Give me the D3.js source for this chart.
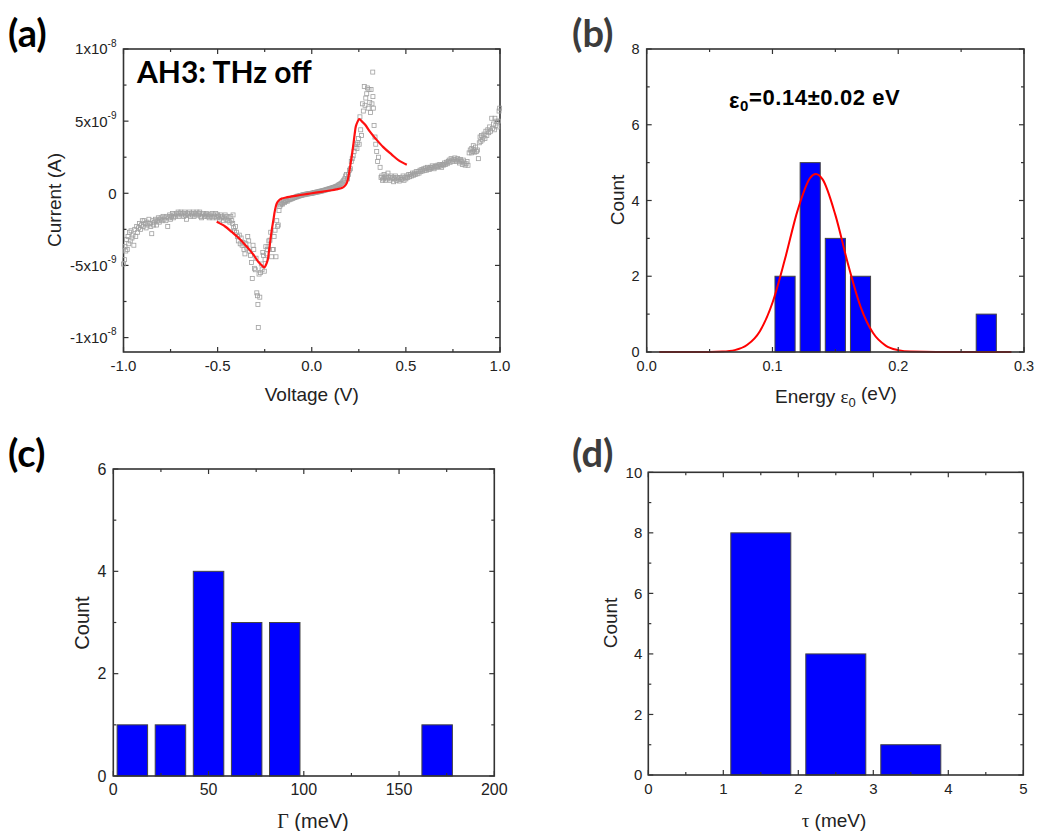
<!DOCTYPE html>
<html><head><meta charset="utf-8">
<script src="https://cdn.jsdelivr.net/npm/d3@7/dist/d3.min.js"></script>
<style>
html,body{margin:0;padding:0;background:#fff;}
svg{display:block;}
text{fill:#222;}
</style></head>
<body>
<svg id="fig" width="1038" height="831" font-family="Liberation Sans, Arial, sans-serif"></svg>
<script>
// ---------- DATA ----------
// Panel (a): I-V scatter (current in units of 1e-9 A)
const voltage = [
-1.000,-0.995,-0.992,-0.988,-0.984,-0.980,-0.976,-0.972,-0.968,-0.964,-0.960,-0.955,-0.950,-0.945,-0.940,-0.935,-0.930,-0.925,-0.920,-0.915,
-0.910,-0.905,-0.900,-0.895,-0.890,-0.885,-0.880,-0.875,-0.870,-0.865,-0.860,-0.855,-0.850,-0.845,-0.840,-0.835,-0.830,-0.825,-0.820,-0.815,
-0.810,-0.805,-0.800,-0.795,-0.790,-0.785,-0.780,-0.775,-0.770,-0.765,-0.760,-0.755,-0.750,-0.745,-0.740,-0.735,-0.730,-0.725,-0.720,-0.715,
-0.710,-0.705,-0.700,-0.695,-0.690,-0.685,-0.680,-0.675,-0.670,-0.665,-0.660,-0.655,-0.650,-0.645,-0.640,-0.635,-0.630,-0.625,-0.620,-0.615,
-0.610,-0.605,-0.600,-0.595,-0.590,-0.585,-0.580,-0.575,-0.570,-0.565,-0.560,-0.555,-0.550,-0.545,-0.540,-0.535,-0.530,-0.525,-0.520,-0.515,
-0.510,-0.505,-0.500,-0.495,-0.490,-0.485,-0.480,-0.475,-0.470,-0.465,-0.460,-0.455,-0.450,-0.445,-0.440,-0.435,-0.430,-0.425,-0.420,-0.418,
-0.415,-0.410,-0.405,-0.400,-0.395,-0.390,-0.385,-0.380,-0.375,-0.370,-0.365,-0.360,-0.355,-0.350,-0.345,-0.340,-0.335,-0.330,-0.325,-0.320,
-0.316,-0.312,-0.308,-0.304,-0.300,-0.296,-0.292,-0.288,-0.286,-0.284,-0.280,-0.276,-0.272,-0.268,-0.264,-0.260,-0.256,-0.252,-0.248,-0.244,
-0.240,-0.236,-0.232,-0.228,-0.222,-0.218,-0.213,-0.208,-0.204,-0.200,-0.195,-0.190,-0.186,-0.182,-0.178,-0.174,-0.170,-0.165,-0.160,-0.155,
-0.150,-0.145,-0.140,-0.135,-0.130,-0.125,-0.120,-0.115,-0.110,-0.105,-0.100,-0.095,-0.090,-0.085,-0.080,-0.075,-0.070,-0.065,-0.060,-0.055,
-0.050,-0.045,-0.040,-0.035,-0.030,-0.025,-0.020,-0.015,-0.010,-0.005,0.000,0.005,0.010,0.015,0.020,0.025,0.030,0.035,0.040,0.045,
0.050,0.055,0.060,0.065,0.070,0.075,0.080,0.085,0.090,0.095,0.100,0.105,0.110,0.115,0.120,0.125,0.130,0.135,0.140,0.145,
0.150,0.155,0.160,0.165,0.170,0.175,0.180,0.185,0.190,0.195,0.200,0.205,0.210,0.215,0.220,0.225,0.230,0.235,0.240,0.244,
0.248,0.252,0.256,0.260,0.264,0.269,0.274,0.279,0.283,0.287,0.292,0.296,0.300,0.304,0.308,0.312,0.315,0.320,0.324,0.325,
0.327,0.331,0.336,0.340,0.345,0.350,0.355,0.363,0.368,0.372,0.376,0.380,0.384,0.388,0.392,0.396,0.400,0.405,0.410,0.415,
0.420,0.425,0.430,0.435,0.440,0.445,0.450,0.455,0.460,0.465,0.470,0.475,0.480,0.485,0.490,0.495,0.500,0.505,0.510,0.515,
0.520,0.525,0.530,0.535,0.540,0.545,0.550,0.555,0.560,0.565,0.570,0.575,0.580,0.585,0.590,0.595,0.600,0.605,0.610,0.615,
0.620,0.625,0.630,0.635,0.640,0.645,0.650,0.655,0.660,0.665,0.670,0.675,0.680,0.685,0.690,0.695,0.700,0.705,0.710,0.715,
0.720,0.725,0.730,0.735,0.740,0.745,0.750,0.755,0.760,0.765,0.770,0.775,0.780,0.785,0.790,0.795,0.800,0.805,0.810,0.815,
0.820,0.825,0.830,0.836,0.842,0.848,0.850,0.855,0.858,0.862,0.866,0.870,0.875,0.880,0.885,0.890,0.894,0.898,0.902,0.906,
0.910,0.915,0.920,0.925,0.930,0.935,0.940,0.945,0.950,0.956,0.960,0.965,0.970,0.973,0.978,0.983,0.988,0.992,0.995,0.998
];
const current = [
-4.9,-4.6,-3.7,-4.0,-3.2,-3.9,-3.0,-3.5,-2.7,-3.3,-2.6,-3.1,-2.9,-3.6,-2.5,-3.0,-2.3,-2.7,-2.4,-2.1,
-2.5,-2.2,-1.9,-2.3,-1.9,-2.1,-2.4,-2.0,-2.2,-1.8,-2.1,-2.3,-2.8,-1.9,-2.2,-2.0,-1.8,-2.2,-1.9,-1.7,
-2.0,-1.8,-1.7,-1.9,-1.6,-1.8,-1.7,-1.9,-1.6,-2.3,-1.7,-1.5,-1.8,-1.6,-1.4,-1.7,-1.5,-1.6,-1.4,-1.5,
-1.3,-1.6,-1.4,-1.3,-1.5,-1.4,-1.6,-1.3,-1.5,-1.8,-1.4,-1.5,-1.3,-1.6,-1.4,-1.5,-1.3,-1.6,-1.4,-1.5,
-1.3,-1.5,-1.4,-1.3,-1.6,-1.7,-1.5,-1.4,-1.6,-1.5,-1.4,-1.6,-1.5,-1.7,-1.5,-1.6,-1.4,-1.7,-1.5,-1.6,
-1.4,-1.7,-1.5,-1.6,-1.8,-1.5,-1.7,-1.6,-1.9,-1.7,-1.5,-1.8,-1.6,-1.9,-1.7,-2.0,-1.6,-1.9,-2.1,-1.5,
-2.4,-2.6,-2.3,-2.7,-3.0,-3.3,-2.9,-3.5,-3.1,-3.6,-3.4,-3.9,-4.2,-3.5,-3.8,-3.0,-3.3,-4.0,-4.3,-4.8,
-5.9,-3.6,-3.9,-5.2,-5.3,-4.5,-6.9,-7.1,-7.7,-9.3,-5.6,-7.2,-5.5,-4.9,-5.3,-4.1,-4.3,-5.4,-4.6,-3.7,
-4.2,-3.9,-3.7,-3.3,-3.25,-2.7,-4.4,-3.9,-3.9,-3.0,-2.56,-4.4,-1.9,-2.3,-2.2,-1.2,-0.9,-0.8,-0.7,-0.75,
-0.6,-0.65,-0.55,-0.5,-0.55,-0.45,-0.45,-0.4,-0.4,-0.35,-0.35,-0.3,-0.3,-0.25,-0.25,-0.2,-0.2,-0.18,-0.15,-0.15,
-0.12,-0.1,-0.1,-0.08,-0.06,-0.05,-0.04,-0.03,-0.02,-0.01,0.0,0.02,0.03,0.05,0.06,0.08,0.09,0.1,0.12,0.14,
0.15,0.17,0.18,0.2,0.22,0.24,0.26,0.28,0.3,0.32,0.34,0.36,0.38,0.4,0.42,0.45,0.48,0.5,0.55,0.6,
0.62,0.68,0.72,0.8,0.9,1.0,1.2,1.3,1.0,1.3,1.6,1.7,2.2,2.4,2.6,2.9,3.2,3.4,3.1,3.5,
3.8,3.4,5.3,4.4,4.0,6.2,5.7,7.4,6.1,6.6,6.9,7.3,5.9,7.2,6.3,5.6,7.2,6.2,8.4,6.7,
5.9,4.7,3.9,3.4,2.9,2.2,2.5,1.8,1.1,1.2,0.9,1.0,1.3,1.1,0.9,1.2,1.0,1.4,1.1,0.9,
1.2,1.0,1.1,0.8,1.0,1.2,0.9,1.1,1.0,0.85,1.1,0.95,1.0,1.2,0.9,1.1,1.0,1.2,1.1,1.3,
1.15,1.3,1.2,1.4,1.25,1.4,1.3,1.5,1.35,1.5,1.4,1.6,1.5,1.65,1.55,1.7,1.6,1.75,1.6,1.8,
1.7,1.65,1.8,1.75,1.9,1.8,1.7,1.85,1.9,1.8,1.95,1.85,2.0,1.9,1.8,2.0,1.95,2.1,2.0,2.15,
2.05,2.2,2.3,2.15,2.4,2.3,2.2,2.35,2.45,2.3,2.2,2.4,2.3,2.1,2.35,2.2,2.0,2.3,2.1,1.95,
2.05,2.2,1.94,2.8,3.0,2.8,3.1,2.9,3.3,3.0,2.85,3.2,2.9,3.0,2.4,3.5,3.9,3.6,4.0,3.7,
3.9,4.1,3.8,4.3,4.0,4.4,4.2,4.6,4.3,5.2,4.5,4.8,4.4,5.2,4.7,5.0,4.6,5.0,5.7,5.9
];
// Panel (a): fitted model curve
const fitVoltage = [-0.505,-0.46,-0.425,-0.38,-0.337,-0.31,-0.284,-0.265,-0.252,-0.243,-0.234,-0.228,-0.222,-0.213,-0.204,-0.195,-0.186,-0.175,-0.16,-0.13,-0.107,-0.06,0,
  0.06,0.107,0.13,0.16,0.175,0.186,0.195,0.204,0.213,0.222,0.228,0.234,0.243,0.252,0.265,0.284,0.31,0.337,0.38,0.425,0.46,0.505];
const fitCurrent = [-1.98,-2.3,-2.68,-3.2,-3.82,-4.25,-4.75,-5.0,-5.14,-4.95,-4.63,-4.1,-3.48,-2.6,-1.87,-1.15,-0.71,-0.5,-0.37,-0.27,-0.21,-0.12,0,
  0.12,0.21,0.27,0.37,0.5,0.71,1.15,1.87,2.6,3.48,4.1,4.63,4.95,5.14,5.0,4.75,4.25,3.82,3.2,2.68,2.3,1.98];
const voltageTicks = [-1, -0.5, 0, 0.5, 1];
const voltageTickLabels = ["-1.0", "-0.5", "0.0", "0.5", "1.0"];
const currentTicks = [-10, -5, 0, 5, 10];
const currentTickBase = ["-1x10", "-5x10", "0", "5x10", "1x10"];
const currentTickExp = ["-8", "-9", "", "-9", "-8"];

// Panel (b): energy histogram + gaussian fit
const energyBinCenters = [0.11, 0.13, 0.15, 0.17, 0.27];
const energyCounts = [2, 5, 3, 2, 1];
const energyBinWidth = 0.02;
const gaussEnergy = [0.01,0.03,0.05,0.06,0.07,0.08,0.09,0.10,0.11,0.12,0.13,0.1345,0.14,0.15,0.16,0.17,0.18,0.19,0.20,0.21,0.23,0.25,0.27,0.29];
const gaussCount  = [0,0,0,0.01,0.05,0.19,0.55,1.30,2.46,3.74,4.60,4.70,4.55,3.62,2.33,1.20,0.50,0.17,0.05,0.01,0,0,0,0];
const energyTicks = [0, 0.1, 0.2, 0.3];
const energyTickLabels = ["0.0", "0.1", "0.2", "0.3"];

// Panel (c): Gamma histogram
const gammaBinCenters = [10, 30, 50, 70, 90, 170];
const gammaCounts = [1, 1, 4, 3, 3, 1];
const gammaBinWidth = 20;

// Panel (d): tau histogram
const tauBinCenters = [1.5, 2.5, 3.5];
const tauCounts = [8, 4, 1];
const tauBinWidth = 1;

// ---------- DRAW ----------
const svg = d3.select("#fig");
const AX = "#333";
const SERIF = "'Liberation Serif', 'DejaVu Serif', serif";

function frame(box, x, y, xt, yt, opts) {
  const g = svg.append("g");
  const {l, r, t, b} = box;
  const maj = 5, mn = 3;
  const tick = (x1, y1, x2, y2) => g.append("line").attr("x1", x1).attr("y1", y1).attr("x2", x2).attr("y2", y2)
      .attr("stroke", AX).attr("stroke-width", 1.2);
  xt.major.forEach(v => { const p = x(v); tick(p, b, p, b - maj); tick(p, t, p, t + maj); });
  xt.minor.forEach(v => { const p = x(v); tick(p, b, p, b - mn); tick(p, t, p, t + mn); });
  yt.major.forEach(v => { const p = y(v); tick(l, p, l + maj, p); tick(r, p, r - maj, p); });
  yt.minor.forEach(v => { const p = y(v); tick(l, p, l + mn, p); tick(r, p, r - mn, p); });
  g.append("rect").attr("x", l).attr("y", t).attr("width", r - l).attr("height", b - t)
    .attr("fill", "none").attr("stroke", AX).attr("stroke-width", 1.6);
  xt.major.forEach((v, i) => {
    g.append("text").attr("x", x(v)).attr("y", b + opts.xPad).attr("dy", "0.72em")
      .attr("text-anchor", "middle").attr("font-size", opts.fs).text(xt.labels ? xt.labels[i] : String(v));
  });
  if (!opts.customY) {
    yt.major.forEach((v, i) => {
      g.append("text").attr("x", l - opts.yPad).attr("y", y(v)).attr("dy", "0.36em")
        .attr("text-anchor", "end").attr("font-size", opts.fs).text(yt.labels ? yt.labels[i] : String(v));
    });
  }
  return g;
}

function histogram(g, x, y, centers, counts, w) {
  g.selectAll(null).data(centers).enter().append("rect")
    .attr("x", d => x(d - w * 0.4))
    .attr("width", d => x(d + w * 0.4) - x(d - w * 0.4))
    .attr("y", (d, i) => y(counts[i]))
    .attr("height", (d, i) => y(0) - y(counts[i]))
    .attr("fill", "#0000ff").attr("stroke", "#444").attr("stroke-width", 1);
}

function panelLabel(txt, px, py, col) {
  svg.append("text").attr("x", px).attr("y", py).style("font-family", "Lato, 'Open Sans', sans-serif")
    .style("font-weight", 700).attr("font-size", 38).style("fill", col).text(txt);
}

// ---- Panel (a)
{
  const box = {l: 123.5, r: 500, t: 49, b: 352};
  const x = d3.scaleLinear().domain([-1, 1]).range([box.l, box.r]);
  const y = d3.scaleLinear().domain([-11, 10]).range([box.b, box.t]);
  const g = frame(box, x, y,
    {major: voltageTicks, minor: [-0.75, -0.25, 0.25, 0.75], labels: voltageTickLabels},
    {major: currentTicks, minor: [-7.5, -2.5, 2.5, 7.5]},
    {fs: 15, xPad: 8, yPad: 7, customY: true});
  currentTicks.forEach((v, i) => {
    const t = g.append("text").attr("x", box.l - 7).attr("y", y(v)).attr("dy", "0.36em")
      .attr("text-anchor", "end").attr("font-size", 15);
    t.append("tspan").text(currentTickBase[i]);
    if (currentTickExp[i]) t.append("tspan").attr("font-size", 10).attr("dy", "-0.75em").text(currentTickExp[i]);
  });
  const pts = voltage.map((v, i) => [v, current[i]]);
  g.selectAll(null).data(pts).enter().append("rect")
    .attr("x", d => x(d[0]) - 2).attr("y", d => y(d[1]) - 2)
    .attr("width", 4).attr("height", 4)
    .attr("fill", "none").attr("stroke", "#a0a0a0").attr("stroke-width", 0.8);
  const fit = fitVoltage.map((v, i) => [v, fitCurrent[i]]);
  g.append("path").datum(fit)
    .attr("d", d3.line().x(d => x(d[0])).y(d => y(d[1])).curve(d3.curveCatmullRom))
    .attr("fill", "none").attr("stroke", "#ff1010").attr("stroke-width", 2.2);
  g.append("text").attr("x", 137).attr("y", 83).style("font-family", "Lato, sans-serif")
    .style("font-weight", 700).attr("font-size", 30).style("fill", "#000").text("AH3: THz off");
  g.append("text").attr("x", x(0)).attr("y", 401).attr("text-anchor", "middle").attr("font-size", 19).text("Voltage (V)");
  g.append("text").attr("transform", "translate(61,200) rotate(-90)").attr("text-anchor", "middle").attr("font-size", 19).text("Current (A)");
}

// ---- Panel (b)
{
  const box = {l: 646.7, r: 1024, t: 49, b: 352};
  const x = d3.scaleLinear().domain([0, 0.3]).range([box.l, box.r]);
  const y = d3.scaleLinear().domain([0, 8]).range([box.b, box.t]);
  const g = svg.append("g");
  histogram(g, x, y, energyBinCenters, energyCounts, energyBinWidth);
  const gc = gaussEnergy.map((v, i) => [v, gaussCount[i]]);
  g.append("path").datum(gc)
    .attr("d", d3.line().x(d => x(d[0])).y(d => y(d[1])).curve(d3.curveMonotoneX))
    .attr("fill", "none").attr("stroke", "#ff0000").attr("stroke-width", 2);
  frame(box, x, y,
    {major: energyTicks, minor: [0.05, 0.15, 0.25], labels: energyTickLabels},
    {major: [0, 2, 4, 6, 8], minor: [1, 3, 5, 7]},
    {fs: 14.5, xPad: 9, yPad: 7});
  const t = svg.append("text").attr("x", 729).attr("y", 108).style("font-weight", 700).attr("font-size", 22)
    .style("letter-spacing", "0.6px").style("fill", "#000");
  t.append("tspan").text("ε");
  t.append("tspan").attr("font-size", 15).attr("dy", "0.2em").text("0");
  t.append("tspan").attr("dy", "-0.28em").text("=0.14±0.02 eV");
  const xl = svg.append("text").attr("x", 836).attr("y", 403).attr("text-anchor", "middle").attr("font-size", 19);
  xl.append("tspan").text("Energy ");
  xl.append("tspan").style("font-family", SERIF).text("ε");
  xl.append("tspan").attr("font-size", 13).attr("dy", "0.3em").text("0");
  xl.append("tspan").attr("dy", "-0.35em").text(" (eV)");
  svg.append("text").attr("transform", "translate(624,200) rotate(-90)").attr("text-anchor", "middle").attr("font-size", 19).text("Count");
}

// ---- Panel (c)
{
  const box = {l: 113.3, r: 494.3, t: 469, b: 776};
  const x = d3.scaleLinear().domain([0, 200]).range([box.l, box.r]);
  const y = d3.scaleLinear().domain([0, 6]).range([box.b, box.t]);
  const g = svg.append("g");
  histogram(g, x, y, gammaBinCenters, gammaCounts, gammaBinWidth);
  frame(box, x, y,
    {major: [0, 50, 100, 150, 200], minor: [25, 75, 125, 175]},
    {major: [0, 2, 4, 6], minor: [1, 3, 5]},
    {fs: 16, xPad: 7, yPad: 7});
  const xl = svg.append("text").attr("x", 313).attr("y", 828).attr("text-anchor", "middle").attr("font-size", 20);
  xl.append("tspan").style("font-family", SERIF).text("Γ");
  xl.append("tspan").text(" (meV)");
  svg.append("text").attr("transform", "translate(89,623) rotate(-90)").attr("text-anchor", "middle").attr("font-size", 20).text("Count");
}

// ---- Panel (d)
{
  const box = {l: 648.3, r: 1023.3, t: 472.3, b: 775};
  const x = d3.scaleLinear().domain([0, 5]).range([box.l, box.r]);
  const y = d3.scaleLinear().domain([0, 10]).range([box.b, box.t]);
  const g = svg.append("g");
  histogram(g, x, y, tauBinCenters, tauCounts, tauBinWidth);
  frame(box, x, y,
    {major: [0, 1, 2, 3, 4, 5], minor: [0.5, 1.5, 2.5, 3.5, 4.5]},
    {major: [0, 2, 4, 6, 8, 10], minor: [1, 3, 5, 7, 9]},
    {fs: 15, xPad: 8, yPad: 6});
  const xl = svg.append("text").attr("x", 834).attr("y", 827).attr("text-anchor", "middle").attr("font-size", 19);
  xl.append("tspan").style("font-family", SERIF).text("τ");
  xl.append("tspan").text(" (meV)");
  svg.append("text").attr("transform", "translate(617,623) rotate(-90)").attr("text-anchor", "middle").attr("font-size", 19).text("Count");
}

panelLabel("(a)", 8, 47, "#000");
panelLabel("(b)", 572, 47, "#3c3c3c");
panelLabel("(c)", 8, 467, "#000");
panelLabel("(d)", 572, 467, "#3c3c3c");
</script>
</body></html>
